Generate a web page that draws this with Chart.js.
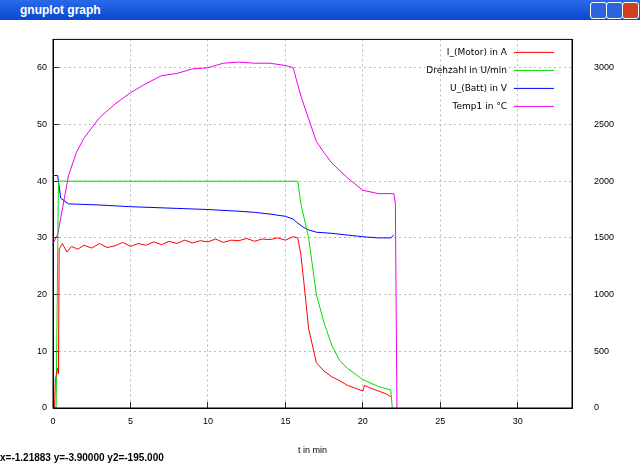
<!DOCTYPE html>
<html><head><meta charset="utf-8">
<script src="https://cdn.jsdelivr.net/npm/chart.js@4"></script>
<style>
body{margin:0;width:640px;height:465px;background:#fff;overflow:hidden;font-family:"DejaVu Sans",sans-serif}
#bar{position:absolute;left:0;top:0;width:640px;height:20px;background:linear-gradient(#2a6ae8,#0a46d0);color:#fff;font:bold 12px "Liberation Sans",sans-serif;line-height:20px}
#bar span{margin-left:20px}
.b{position:absolute;top:2px;width:15px;height:15px;border:1px solid #fff;border-radius:3px;background:#2f62e0}
#status{position:absolute;left:0;top:452px;font:bold 10px "Liberation Sans",sans-serif}
#wrap{position:absolute;left:0;top:20px;width:640px;height:440px}
</style></head><body>
<div id="bar"><span>gnuplot graph</span><div class="b" style="left:590px"></div><div class="b" style="left:606px"></div><div class="b" style="left:622px;background:#d04020"></div></div>
<div id="wrap"><canvas id="c"></canvas></div>
<div id="status">x=-1.21883 y=-3.90000 y2=-195.000</div>
<script>
// Messwerte (x in min)
const tMotor = [0,0.1,0.15,0.3,0.35,0.4,0.6,0.9,1.2,1.6,2,2.5,3,3.5,4,4.5,5,5.5,6,6.5,7,7.5,8,8.5,9,9.5,10,10.5,11,11.5,12,12.5,13,13.5,14,14.5,15,15.5,15.8,16,16.2,16.5,17,17.5,18,18.5,19,19.5,20,20.1,20.5,21,21.5,21.8];
const iMotor = [0,0,5,7,6,28,29,27.5,28.5,28,28.7,28.2,29,28.3,28.6,29.2,28.5,29,28.7,29.3,28.8,29.4,29,29.6,29.1,29.5,29.3,29.8,29.2,29.6,29.5,29.9,29.4,29.8,29.7,30,29.6,30.2,30,27,22,14,8,6.5,5.5,4.8,4,3.5,3,4,3.5,3,2.5,2];
const tDreh = [0,0.2,0.35,15.8,16,16.5,17,17.5,18,18.5,19,19.5,20,20.5,21,21.5,21.8,21.9];
const drehzahl = [0,0,2000,2000,1800,1500,1000,750,550,420,350,300,250,220,190,170,160,0];
const tBatt = [0,0.3,0.5,1,3,5,8,10,12,13,14,15,15.5,15.8,16.2,16.5,17,18,19,20,21,21.8,22];
const uBatt = [41,41,37,36,35.8,35.5,35.2,35,34.7,34.5,34.2,33.8,33.3,32.6,31.8,31.4,31,30.8,30.5,30.2,30,30,30.5];
const tTemp = [0,0.3,0.6,1,1.5,2,3,4,5,6,7,8,9,10,11,12,13,14,15,15.5,16,16.5,17,17.5,18,19,20,21,22,22.1,22.2];
const temp1 = [1450,1530,1750,2050,2250,2380,2560,2680,2780,2860,2930,2950,2990,3000,3040,3050,3040,3040,3020,3000,2750,2550,2350,2250,2160,2030,1920,1890,1890,1800,0];
const xTicks = [0,5,10,15,20,25,30];
const yTicks = [0,10,20,30,40,50,60];
const y2Ticks = [0,500,1000,1500,2000,2500,3000];

const pts = (xs, ys) => xs.map((x, i) => ({x: x, y: ys[i]}));
const ds = (label, data, color, axis) => ({label, data, borderColor: color, borderWidth: 1, pointRadius: 0, showLine: true, tension: 0, yAxisID: axis});
const fixTicks = list => s => { s.ticks = list.map(v => ({value: v})); };

const legendPlugin = {
  id: 'gpLegend',
  afterDraw(chart) {
    const ctx = chart.ctx, r = chart.chartArea.right;
    ctx.save();
    ctx.font = '9px "DejaVu Sans", sans-serif';
    ctx.textAlign = 'right'; ctx.textBaseline = 'middle';
    chart.data.datasets.forEach((d, i) => {
      const y = chart.chartArea.top + 13 + i * 18;
      ctx.fillStyle = '#000';
      ctx.fillText(d.label, r - 65, y);
      ctx.strokeStyle = d.borderColor; ctx.lineWidth = 1;
      ctx.beginPath(); ctx.moveTo(r - 58, y); ctx.lineTo(r - 18, y); ctx.stroke();
    });
    ctx.restore();
  }
};

const grid = {color: '#aaa', tickColor: '#000', drawTicks: true, tickLength: -6, lineWidth: 0.8};
new Chart(document.getElementById('c'), {
  type: 'scatter',
  data: {datasets: [
    ds('I_(Motor) in A', pts(tMotor, iMotor), '#ff0000', 'y'),
    ds('Drehzahl in U/min', pts(tDreh, drehzahl), '#00dd00', 'y2'),
    ds('U_(Batt) in V', pts(tBatt, uBatt), '#0000ff', 'y'),
    ds('Temp1 in \u00b0C', pts(tTemp, temp1), '#ee00ee', 'y2')
  ]},
  options: {
    responsive: true, maintainAspectRatio: false, animation: false,
    layout: {padding: {top: 8}},
    plugins: {legend: {display: false}, tooltip: {enabled: false}},
    scales: {
      x: {type: 'linear', min: 0, max: 33.5, afterBuildTicks: fixTicks(xTicks),
        ticks: {color: '#000', font: {size: 9}, padding: 14},
        grid: grid, border: {color: '#000', dash: [2, 3]},
        title: {display: true, text: 't in min', color: '#000', font: {size: 9}, padding: {top: 12}},
        afterFit: s => { s.height = 52; }},
      y: {min: 0, max: 65, position: 'left', afterBuildTicks: fixTicks(yTicks),
        ticks: {color: '#000', font: {size: 9}, padding: 12},
        grid: grid, border: {color: '#000', dash: [2, 3]},
        afterFit: s => { s.width = 53; }},
      y2: {min: 0, max: 3250, position: 'right', afterBuildTicks: fixTicks(y2Ticks),
        ticks: {color: '#000', font: {size: 9}, padding: 14, callback: v => String(v)},
        grid: {display: false}, border: {color: '#000'},
        afterFit: s => { s.width = 68; }}
    }
  },
  plugins: [legendPlugin, {
    id: 'frame',
    afterDraw(chart) {
      const a = chart.chartArea, ctx = chart.ctx;
      ctx.save(); ctx.strokeStyle = '#000'; ctx.lineWidth = 1;
      ctx.strokeRect(a.left, a.top, a.right - a.left, a.bottom - a.top);
      ctx.restore();
    }
  }]
});
</script>
</body></html>
